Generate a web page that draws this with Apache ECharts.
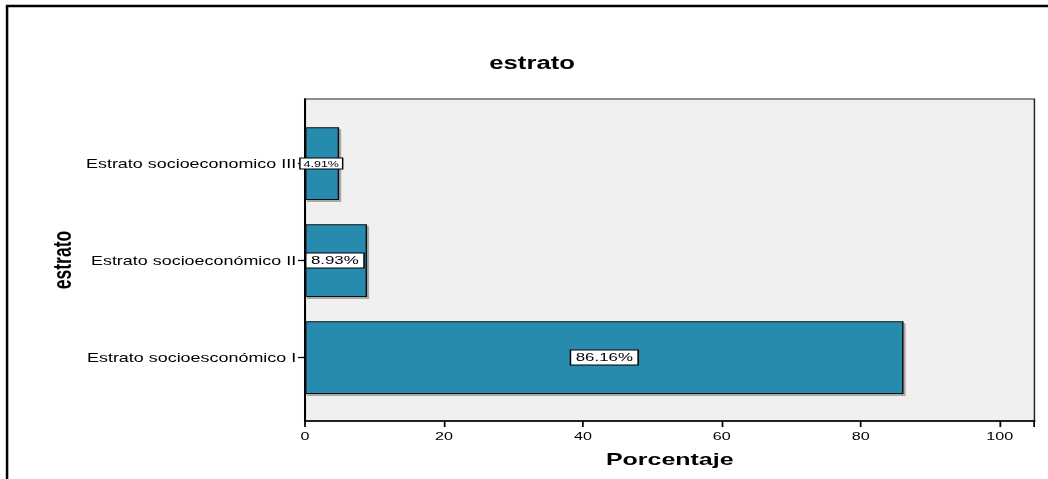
<!DOCTYPE html>
<html>
<head>
<meta charset="utf-8">
<script src="https://cdn.jsdelivr.net/npm/echarts@6/dist/echarts.min.js"></script>
<style>
html,body{margin:0;padding:0;background:#fff;overflow:hidden;}
#wrap{width:1048px;height:479px;overflow:hidden;}
#chart{width:713px;height:479px;transform:scaleX(1.47);transform-origin:0 0;}
</style>
</head>
<body>
<div id="wrap"><div id="chart"></div></div>
<script>
const categories = ['Estrato socioesconómico I', 'Estrato socioeconómico II', 'Estrato socioeconomico III'];
const percentages = [86.16, 8.93, 4.91];
const chartTitle = 'estrato';
const xAxisTitle = 'Porcentaje';
const yAxisTitle = 'estrato';

const FONT = '"Liberation Sans", Arial, sans-serif';
const labelStyles = [
  { position: 'inside', fontSize: 11.5, padding: [1, 3, 1, 3] },
  { position: 'insideLeft', distance: 1, fontSize: 11.5, padding: [1, 3, 1, 3] },
  { position: 'insideLeft', distance: 0, offset: [-3, 0], fontSize: 8.5, padding: [1, 2, 0, 2] }
];

const chart = echarts.init(document.getElementById('chart'), null, { renderer: 'svg' });
const option = {
  animation: false,
  backgroundColor: '#ffffff',
  title: {
    text: chartTitle,
    left: 357, top: 49, textAlign: 'center',
    textStyle: { fontFamily: FONT, fontSize: 17.5, fontWeight: 'bold', color: '#000' }
  },
  graphic: [
    { type: 'line', shape: { x1: 4, y1: 6, x2: 713, y2: 6 }, style: { stroke: '#000', lineWidth: 2.5 } },
    { type: 'line', shape: { x1: 4.8, y1: 6, x2: 4.8, y2: 479 }, style: { stroke: '#000', lineWidth: 1.7 } }
  ],
  grid: [
    { left: 207.5, right: 9.3, top: 99, bottom: 58, show: true, backgroundColor: '#f0f0f0', borderColor: '#222', borderWidth: 1 },
    { left: 207.5, right: 9.3, top: 115, bottom: 73 }
  ],
  xAxis: [
    {
      gridIndex: 0, type: 'value', min: 0, max: 105, interval: 20,
      axisLine: { show: true, lineStyle: { color: '#000', width: 1.5 } },
      axisTick: { show: true, length: 6, lineStyle: { color: '#000', width: 1.2 } },
      axisLabel: { fontFamily: FONT, fontSize: 11, color: '#000', margin: 10,
        formatter: v => (v % 20 === 0 ? String(v) : '') },
      splitLine: { show: false },
      name: xAxisTitle, nameLocation: 'middle', nameGap: 30,
      nameTextStyle: { fontFamily: FONT, fontSize: 17, fontWeight: 'bold', color: '#000' }
    },
    { gridIndex: 1, type: 'value', min: 0, max: 105, show: false }
  ],
  yAxis: [
    {
      gridIndex: 0, type: 'value', min: 0, max: 1,
      axisLine: { show: true, onZero: false, lineStyle: { color: '#000', width: 1.4 } },
      axisTick: { show: false }, axisLabel: { show: false }, splitLine: { show: false },
      name: yAxisTitle, nameLocation: 'middle', nameGap: 156, nameRotate: 90,
      nameTextStyle: { fontFamily: FONT, fontSize: 17.5, fontWeight: 'bold', color: '#000' }
    },
    {
      gridIndex: 1, type: 'category', data: categories,
      axisLine: { show: false },
      axisTick: { show: true, alignWithLabel: true, length: 4.8, lineStyle: { color: '#000', width: 1.3 } },
      axisLabel: { fontFamily: FONT, fontSize: 12.2, color: '#000', margin: 6 }
    }
  ],
  series: [{
    type: 'bar', xAxisIndex: 1, yAxisIndex: 1,
    barWidth: '75%',
    data: percentages.map((v, i) => ({
      value: v,
      label: Object.assign({}, labelStyles[i])
    })),
    itemStyle: {
      color: '#268bad', borderColor: '#111', borderWidth: 1,
      shadowColor: 'rgba(0,0,0,0.3)', shadowOffsetX: 1.4, shadowOffsetY: 2, shadowBlur: 0
    },
    label: {
      show: true,
      formatter: p => p.value.toFixed(2) + '%',
      fontFamily: FONT, color: '#000',
      backgroundColor: '#fff', borderColor: '#000', borderWidth: 1
    }
  }]
};
chart.setOption(option);
</script>
</body>
</html>
